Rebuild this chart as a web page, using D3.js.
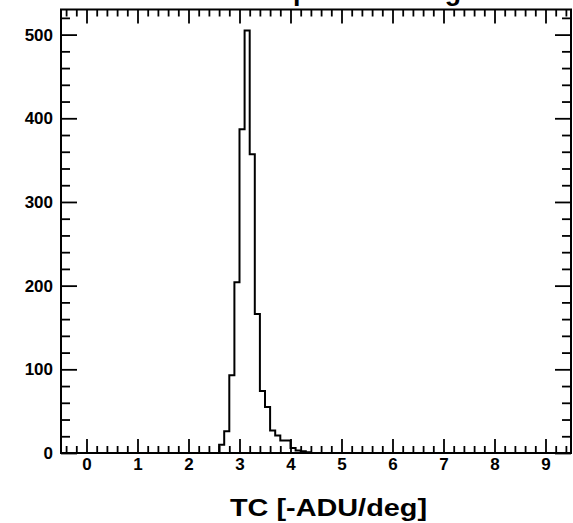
<!DOCTYPE html>
<html>
<head>
<meta charset="utf-8">
<script src="https://cdn.jsdelivr.net/npm/d3@7"></script>
<style>
  html, body { margin: 0; padding: 0; background: #fff; }
  svg { display: block; }
  text { font-family: "Liberation Sans", Arial, Helvetica, sans-serif; fill: #000; }
</style>
</head>
<body>
<svg id="chart" width="573" height="523"></svg>
<script>
// Histogram of temperature coefficients, 0.1 wide bins (lower edges)
const binLow = [2.6, 2.7, 2.8, 2.9, 3.0, 3.1, 3.2, 3.3, 3.4, 3.5, 3.6, 3.7, 3.8, 3.9, 4.0, 4.1, 4.2, 4.3];
const counts = [10, 26, 93, 204, 387, 505, 357, 166, 74, 55, 27, 21, 15, 15, 6, 3, 2, 1];
const binWidth = 0.1;

const xMajor = [0, 1, 2, 3, 4, 5, 6, 7, 8, 9];
const yMajor = [0, 100, 200, 300, 400, 500];

const titleText = "TC spread among all channels";
const xTitle = "TC [-ADU/deg]";

const svg = d3.select("#chart");
const frameL = 61, frameR = 571, frameT = 9.5, frameB = 453;

const x = d3.scaleLinear().domain([-0.5, 9.5]).range([frameL, frameR]);
const y = d3.scaleLinear().domain([0, 530]).range([frameB, frameT]);

const xMinor = d3.range(-4, 95, 2).map(v => v / 10).filter(v => xMajor.indexOf(v) < 0);
const yMinor = d3.range(20, 530, 20).filter(v => yMajor.indexOf(v) < 0);

function style(g) {
  g.select(".domain").remove();
  g.selectAll(".tick line").attr("stroke", "#000").attr("stroke-width", 1.8);
  g.selectAll(".tick text")
    .style("font-size", "17px").style("font-weight", "bold")
    .attr("fill", "#000");
}

// bottom axis (labels) and minor ticks
svg.append("g").attr("transform", `translate(0,${frameB})`)
  .call(d3.axisBottom(x).tickValues(xMajor).tickSize(-14).tickPadding(5).tickFormat(d3.format("d")))
  .call(style);
svg.append("g").attr("transform", `translate(0,${frameB})`)
  .call(d3.axisBottom(x).tickValues(xMinor).tickSize(-7).tickFormat(""))
  .call(style);
// top axis ticks
svg.append("g").attr("transform", `translate(0,${frameT})`)
  .call(d3.axisTop(x).tickValues(xMajor).tickSize(-14).tickFormat(""))
  .call(style);
svg.append("g").attr("transform", `translate(0,${frameT})`)
  .call(d3.axisTop(x).tickValues(xMinor).tickSize(-7).tickFormat(""))
  .call(style);
// left axis
svg.append("g").attr("transform", `translate(${frameL},0)`)
  .call(d3.axisLeft(y).tickValues(yMajor).tickSize(-16).tickPadding(8).tickFormat(d3.format("d")))
  .call(style);
svg.append("g").attr("transform", `translate(${frameL},0)`)
  .call(d3.axisLeft(y).tickValues(yMinor).tickSize(-9).tickFormat(""))
  .call(style);
// right axis ticks
svg.append("g").attr("transform", `translate(${frameR},0)`)
  .call(d3.axisRight(y).tickValues(yMajor).tickSize(-16).tickFormat(""))
  .call(style);
svg.append("g").attr("transform", `translate(${frameR},0)`)
  .call(d3.axisRight(y).tickValues(yMinor).tickSize(-9).tickFormat(""))
  .call(style);

// histogram outline as a step line
const pts = [[binLow[0], 0]]
  .concat(binLow.map((b, i) => [b, counts[i]]))
  .concat([[binLow[binLow.length - 1] + binWidth, 0]]);
const step = d3.line()
  .x(d => x(d[0]))
  .y(d => y(d[1]))
  .curve(d3.curveStepAfter);
svg.append("path")
  .attr("d", step(pts))
  .attr("fill", "none")
  .attr("stroke", "#000")
  .attr("stroke-width", 2);

// frame
svg.append("rect")
  .attr("x", frameL).attr("y", frameT)
  .attr("width", frameR - frameL).attr("height", frameB - frameT)
  .attr("fill", "none").attr("stroke", "#000").attr("stroke-width", 2);

// x axis title
svg.append("text")
  .attr("x", 328.5).attr("y", 516)
  .attr("text-anchor", "middle")
  .attr("textLength", 197).attr("lengthAdjust", "spacingAndGlyphs")
  .style("font-size", "23px").style("font-weight", "bold")
  .text(xTitle);

// histogram title, sitting above the canvas top edge
const title = svg.append("text")
  .attr("y", -0.5)
  .style("font-size", "30px").style("font-weight", "bold")
  .text(titleText);
const iP = titleText.indexOf("p"), iG = titleText.lastIndexOf("g");
const node = title.node();
const dPG = node.getSubStringLength(0, iG) - node.getSubStringLength(0, iP);
const fs = 160 / (dPG / 30 + 0.3);
title.style("font-size", fs + "px");
const offP = node.getSubStringLength(0, iP);
title.attr("x", 293 - offP);
</script>
</body>
</html>
